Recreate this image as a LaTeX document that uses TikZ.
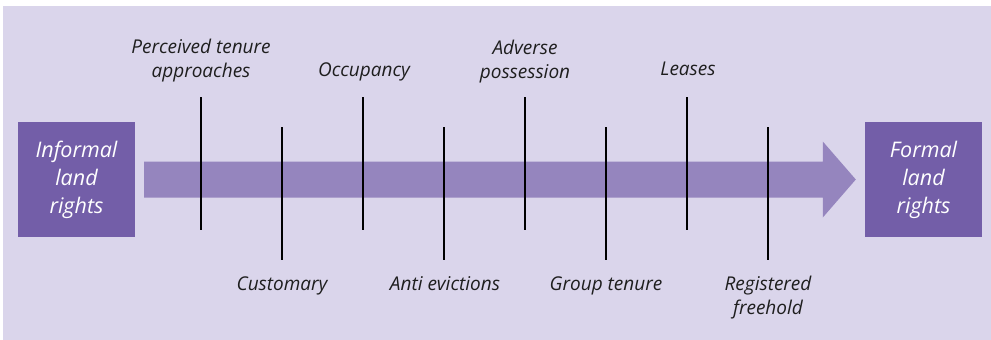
\documentclass[tikz,border=0pt]{standalone}
\usepackage{fontspec}
\setsansfont{Open Sans}
\usetikzlibrary{calc}
\definecolor{panel}{RGB}{218,213,235}
\definecolor{endbox}{RGB}{115,94,168}
\definecolor{flow}{RGB}{149,133,190}
\definecolor{ink}{RGB}{30,30,30}
\tikzset{
  endpoint/.style={fill=endbox, text=white, minimum width=117pt, minimum height=115pt,
    inner sep=0pt, align=center, font=\sffamily\itshape\fontsize{21.5}{28}\selectfont},
  stage/.style={text=ink, inner sep=0pt, align=center, anchor=base,
    font=\sffamily\itshape\fontsize{19}{24}\selectfont},
  tick/.style={draw=black, line width=1.6pt}
}
\begin{document}
\begin{tikzpicture}[x=1pt, y=-1pt]
  \useasboundingbox (0,0) rectangle (991,340);
  \fill[panel] (3,6) rectangle (991,340);

  % the two ends of the continuum
  \node[endpoint] (inf) at (76.5,179.5) {Informal\\land\\rights};
  \node[endpoint] (frm) at (923.5,179.5) {Formal\\land\\rights};

  % broad arrow from informal to formal
  \coordinate (a0) at ($(inf.east)+(9,0)$);
  \coordinate (a1) at ($(frm.west)+(-9,0)$);
  \fill[flow] ($(a0)+(0,-18)$) -- ($(a1)+(-33,-18)$) -- ($(a1)+(-33,-38)$) -- (a1)
    -- ($(a1)+(-33,38)$) -- ($(a1)+(-33,18)$) -- ($(a0)+(0,18)$) -- cycle;

  % stages along the continuum: ticks above
  \foreach \n/\x in {p/201, o/363, v/525, l/687} {
    \coordinate (\n t) at (\x,97);
    \coordinate (\n b) at (\x,230);
    \draw[tick] (\n t) -- (\n b);
  }
  % ticks below
  \foreach \n/\x in {c/282, e/444, g/606, r/768} {
    \coordinate (\n t) at (\x,127);
    \coordinate (\n b) at (\x,260);
    \draw[tick] (\n t) -- (\n b);
  }

  % stage labels (base = baseline of the last line)
  \node[stage] (lp) at (201,77) {Perceived tenure\\approaches};
  \node[stage] (lo) at (364,76) {Occupancy};
  \node[stage] (lv) at (525,78) {Adverse\\possession};
  \node[stage] (ll) at (688,75) {Leases};
  \node[stage] (lc) at (282,290) {Customary};
  \node[stage] (le) at (445,290) {Anti evictions};
  \node[stage] (lg) at (606,290) {Group tenure};
  \node[stage] (lr) at (768,314) {Registered\\freehold};
\end{tikzpicture}
\end{document}
